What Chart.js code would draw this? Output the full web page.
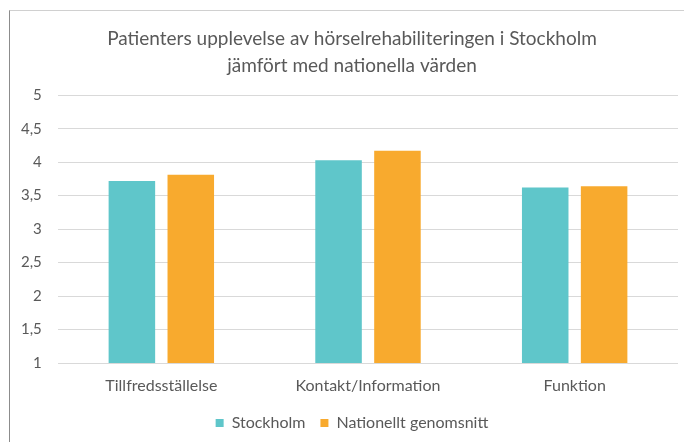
<!DOCTYPE html>
<html>
<head>
<meta charset="utf-8">
<script src="https://cdn.jsdelivr.net/npm/chart.js@4"></script>
<style>
  html, body { margin: 0; background: #fff; overflow: hidden; }
  #frame {
    position: absolute; left: 9px; top: 10px;
    width: 684px; height: 431px;
    border-top: 1px solid #d0d0d0;
    border-left: 1px solid #8c8c8c;
  }
</style>
</head>
<body>
<div id="frame"><canvas id="bar-chart"></canvas></div>
<script>
const categories = ["Tillfredsställelse", "Kontakt/Information", "Funktion"];
const stockholm = [3.72, 4.03, 3.62];
const nationellt = [3.81, 4.17, 3.64];
const yTickLabels = ["1", "1,5", "2", "2,5", "3", "3,5", "4", "4,5", "5"];

const textColor = '#595959';
const fontName = 'Lato';

const barCanvas = document.getElementById("bar-chart");

let barData = {
    labels: categories,
    datasets: [{
        label: 'Stockholm',
        data: stockholm,
        backgroundColor: '#5fc6ca',
        barPercentage: 0.79,
        categoryPercentage: 0.57
    }, {
        label: 'Nationellt genomsnitt',
        data: nationellt,
        backgroundColor: '#f8aa2e',
        barPercentage: 0.79,
        categoryPercentage: 0.57
    }]
};

// canvas runs past the right edge of the page and the left padding is 16,
// so the title centres like the original; y labels are mirrored (no clipping)
// and pulled back left of the axis with a negative padding
let barOptions = {
    responsive: true,
    maintainAspectRatio: false,
    animation: { duration: 0 },
    layout: { padding: { left: 16, right: 16, top: 0, bottom: 1 } },
    plugins: {
        title: {
            display: true,
            text: ["Patienters upplevelse av hörselrehabiliteringen i Stockholm",
                   "jämfört med nationella värden"],
            color: textColor,
            font: { family: fontName, size: 19, weight: 'normal', lineHeight: 1.4 },
            padding: { top: 15, bottom: 16 }
        },
        legend: {
            position: 'bottom',
            labels: {
                color: textColor,
                font: { family: fontName, size: 16 },
                boxWidth: 8,
                boxHeight: 8,
                padding: 15
            }
        },
        tooltip: { enabled: false }
    },
    scales: {
        x: {
            afterFit: scale => { scale.height = 37; },
            grid: { display: false, drawTicks: false },
            border: { display: false },
            ticks: { color: textColor, font: { family: fontName, size: 16 }, padding: 13 }
        },
        y: {
            min: 1,
            max: 5,
            afterFit: scale => { scale.width = 32; },
            grid: { color: '#d9d9d9', lineWidth: 1, drawTicks: false },
            border: { display: false },
            ticks: {
                stepSize: 0.5,
                mirror: true,
                crossAlign: 'far',
                padding: -37,
                color: textColor,
                font: { family: fontName, size: 15 },
                callback: (v, i) => yTickLabels[i]
            }
        }
    }
};

let barChart = new Chart(barCanvas, {
    type: 'bar',
    data: barData,
    options: barOptions
});
</script>
</body>
</html>
